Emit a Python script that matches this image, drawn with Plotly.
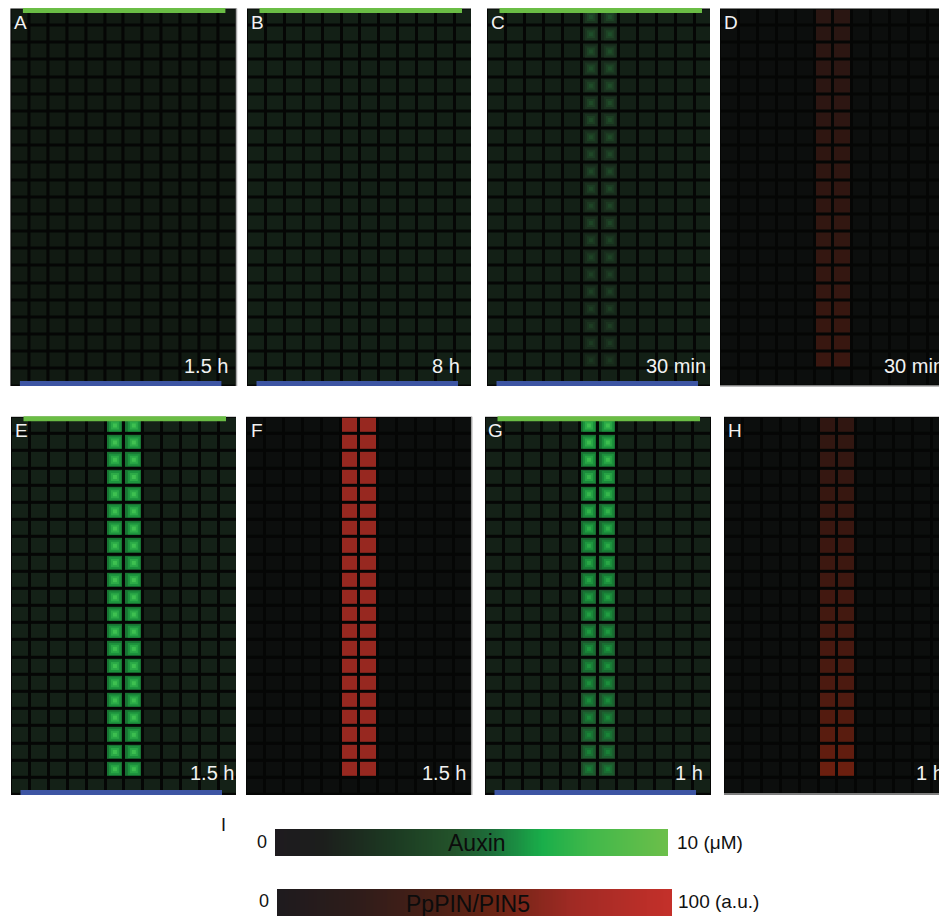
import numpy as np
import plotly.graph_objects as go

FIG_W, FIG_H = 939, 916
FONT = "Liberation Sans, Arial, sans-serif"

# Tissue grid: 22 cell rows x 12 cell files, the vascular strand runs down files 5-6
N_ROWS = 22
N_COLS = 12
STRIPE_COLS = [5, 6]

letters = ["A", "B", "C", "D", "E", "F", "G", "H"]
times = ["1.5 h", "8 h", "30 min", "30 min", "1.5 h", "1.5 h", "1 h", "1 h"]
channels = ["auxin", "auxin", "auxin", "pin", "auxin", "pin", "auxin", "pin"]

# background level of the surrounding cells (auxin in uM, PIN in a.u.)
background = [1.0, 1.5, 1.5, 4.0, 1.7, 4.0, 1.7, 4.0]

# strand cell levels, top cell row to bottom cell row
stripe_A = []
stripe_B = []
stripe_C = [3.7, 3.7, 3.6, 3.6, 3.6, 3.5, 3.5, 3.5, 3.4, 3.4, 3.4,
            3.3, 3.3, 3.2, 3.2, 3.1, 3.1, 3.0, 3.0, 2.9, 2.8]
stripe_D = [18, 18, 19, 19, 19, 20, 20, 21, 21, 21, 22,
            22, 23, 23, 24, 24, 25, 26, 26, 27, 28]
stripe_E = [9.0, 9.1, 9.0, 9.1, 9.0, 9.0, 9.1, 9.0, 9.0, 9.1, 9.0,
            9.0, 9.0, 8.9, 9.0, 9.0, 8.9, 9.0, 8.9, 8.9, 8.8]
stripe_F = [85, 85, 85, 85, 85, 85, 85, 85, 85, 85, 85,
            85, 85, 85, 85, 85, 85, 85, 85, 85, 85]
stripe_G = [9.0, 8.9, 8.8, 8.6, 8.5, 8.3, 8.1, 7.9, 7.7, 7.6, 7.4,
            7.2, 7.0, 6.9, 6.7, 6.5, 6.4, 6.2, 6.1, 5.9, 5.8]
stripe_H = [22, 23, 24, 25, 26, 27, 28, 29, 30, 31, 33,
            34, 35, 37, 38, 40, 42, 44, 47, 51, 57]
stripes = [stripe_A, stripe_B, stripe_C, stripe_D,
           stripe_E, stripe_F, stripe_G, stripe_H]

# which panels carry the source (top) and sink (bottom) markers
has_source_sink = [True, True, True, False, True, False, True, False]

# colour scales used to paint the cells
AUXIN_CELLS = [
    [0.00, "#080c09"], [0.10, "#111a12"], [0.15, "#132016"], [0.17, "#142117"],
    [0.25, "#1a2f1e"], [0.35, "#1f4a28"], [0.45, "#1c6030"], [0.56, "#177a34"],
    [0.70, "#1e9a40"], [0.90, "#3ec050"], [1.00, "#5ccc5c"],
]
PIN_CELLS = [
    [0.00, "#080909"], [0.04, "#0c0e0d"], [0.18, "#2a1612"], [0.28, "#3a1710"],
    [0.40, "#4c1a10"], [0.55, "#681e0e"], [0.85, "#972820"], [1.00, "#b02c26"],
]
# colour keys shown under the panels
AUXIN_KEY = [
    [0.00, "#1e1b1f"], [0.12, "#1c1e1c"], [0.30, "#1c3a22"], [0.45, "#23522a"],
    [0.55, "#1d6e3a"], [0.68, "#19ae4a"], [0.80, "#40b84a"], [1.00, "#6cbf4a"],
]
PIN_KEY = [
    [0.00, "#1e1b1e"], [0.20, "#2e1c1a"], [0.40, "#4a2016"], [0.55, "#6a2414"],
    [0.75, "#a02a24"], [1.00, "#c4302a"],
]

# panel boxes in pixels: left, right, top, bottom
boxes = [
    (10.4, 236.5, 8.5, 386), (247, 471, 8.5, 386), (487, 710, 8.5, 386), (720, 939, 8.5, 386),
    (11, 236, 416.8, 795), (246, 471.7, 416.8, 795), (485, 711, 416.8, 795), (724, 939, 416.8, 795),
]
CELL_W = 18.9
EDGE = 0.6                        # auxin cell rim relative to its centre
GLOW = [(12, 0.74), (8, 0.87), (4, 1.0)]  # (marker px, fraction of centre level)


def px_x(v):
    return v / FIG_W


def px_y(v):
    return 1 - v / FIG_H


def label(text, x, y, size, color, xanchor="center"):
    return dict(text=text, x=px_x(x), y=px_y(y), xref="paper", yref="paper",
                xanchor=xanchor, yanchor="middle", showarrow=False,
                font=dict(family=FONT, size=size, color=color))


fig = go.Figure()
layout_axes = {}
annotations = []
shapes = []

for i in range(8):
    n = i + 1
    xa, ya = ("x", "y") if n == 1 else (f"x{n}", f"y{n}")
    l, r, t, b = boxes[i]
    auxin = channels[i] == "auxin"
    ca = "coloraxis" if auxin else "coloraxis2"

    z = np.full((N_ROWS, N_COLS), background[i], dtype=float)
    s = np.array(stripes[i], dtype=float)
    if len(s):
        z[:len(s), STRIPE_COLS[0]:STRIPE_COLS[-1] + 1] = (s * EDGE if auxin else s)[:, None]

    fig.add_trace(go.Heatmap(z=z, xaxis=xa, yaxis=ya, xgap=3, ygap=3,
                             coloraxis=ca, hoverinfo="skip"))

    if auxin and len(s):
        rows = np.repeat(np.arange(len(s)), len(STRIPE_COLS))
        cols = np.tile(STRIPE_COLS, len(s))
        vals = np.repeat(s, len(STRIPE_COLS))
        for size, frac in GLOW:
            fig.add_trace(go.Scatter(
                x=cols, y=rows, mode="markers", xaxis=xa, yaxis=ya,
                marker=dict(symbol="square", size=size, color=vals * frac,
                            coloraxis="coloraxis", line=dict(width=0)),
                hoverinfo="skip", showlegend=False))

    sfx = "" if n == 1 else str(n)
    layout_axes[f"xaxis{sfx}"] = dict(domain=[px_x(l), px_x(r)],
                                     range=[-0.5, -0.5 + (r - l) / CELL_W],
                                     visible=False, anchor=ya, fixedrange=True)
    layout_axes[f"yaxis{sfx}"] = dict(domain=[px_y(b), px_y(t)],
                                     range=[N_ROWS - 0.5, -0.5],
                                     visible=False, anchor=xa, fixedrange=True)

    # panel letter
    annotations.append(label(letters[i], l + 10.5, t + 13.5, 19, "#f2f2f2"))

    # source (green, top) and sink (blue, bottom) bars
    if has_source_sink[i]:
        shapes.append(dict(type="rect", xref="paper", yref="paper",
                           x0=px_x(l + 12.5), x1=px_x(l + 215), y0=px_y(t + 4.5), y1=px_y(t - 0.5),
                           fillcolor="#6abd45", line=dict(width=0)))
        shapes.append(dict(type="rect", xref="paper", yref="paper",
                           x0=px_x(l + 9.5), x1=px_x(l + 211), y0=px_y(b), y1=px_y(b - 5),
                           fillcolor="#3d55a3", line=dict(width=0)))

# time stamps (right-aligned inside, or running off the right edge)
time_pos = [
    (230, 366, "right"), (462, 366, "right"), (708, 366, "right"), (882, 366, "left"),
    (236, 773, "right"), (468, 773, "right"), (705, 773, "right"), (914, 773, "left"),
]
for i, (x, y, anchor) in enumerate(time_pos):
    annotations.append(label(times[i], x, y, 20, "#f2f2f2", xanchor=anchor))

# thin light borders on some panel edges
edge_lines = [(236.5, 8.5, 236.5, 386), (720, 386, 939, 386),
              (471.7, 416.8, 471.7, 795), (724, 794, 939, 794)]
for x0, y0, x1, y1 in edge_lines:
    shapes.append(dict(type="line", xref="paper", yref="paper",
                       x0=px_x(x0), y0=px_y(y0), x1=px_x(x1), y1=px_y(y1),
                       line=dict(color="#a8a8a8", width=1.5)))

# colour keys (panel I)
key_levels_auxin = np.linspace(0, 10, 256)
key_levels_pin = np.linspace(0, 100, 256)
keys = [
    (9, key_levels_auxin, AUXIN_KEY, (275, 668, 829, 856)),
    (10, key_levels_pin, PIN_KEY, (277, 672, 889, 917)),
]
for n, levels, scale, (l, r, t, b) in keys:
    fig.add_trace(go.Heatmap(z=[levels], x=levels, colorscale=scale, showscale=False,
                             xaxis=f"x{n}", yaxis=f"y{n}", hoverinfo="skip"))
    layout_axes[f"xaxis{n}"] = dict(domain=[px_x(l), px_x(r)], visible=False,
                                    anchor=f"y{n}", fixedrange=True)
    layout_axes[f"yaxis{n}"] = dict(domain=[max(px_y(b), 0), px_y(t)], visible=False,
                                    anchor=f"x{n}", fixedrange=True)

key_text = [
    ("I", 223, 825, "center", 18, "#111111"),
    ("0", 269, 842, "right", 18, "#111111"),
    ("10 (μM)", 675, 842, "left", 19, "#111111"),
    ("Auxin", 477, 843, "center", 23, "#0c0c0c"),
    ("0", 271, 901, "right", 18, "#111111"),
    ("100 (a.u.)", 676, 901, "left", 19, "#111111"),
    ("PpPIN/PIN5", 468, 904, "center", 23, "#0c0c0c"),
]
for text, x, y, anchor, size, color in key_text:
    annotations.append(label(text, x, y, size, color, xanchor=anchor))

fig.update_layout(
    width=FIG_W, height=FIG_H,
    margin=dict(l=0, r=0, t=0, b=0),
    paper_bgcolor="#ffffff",
    plot_bgcolor="#050605",
    showlegend=False,
    coloraxis=dict(colorscale=AUXIN_CELLS, cmin=0, cmax=10, showscale=False),
    coloraxis2=dict(colorscale=PIN_CELLS, cmin=0, cmax=100, showscale=False),
    annotations=annotations,
    shapes=shapes,
    **layout_axes,
)

fig.write_html("out.html", config={"displayModeBar": False})
